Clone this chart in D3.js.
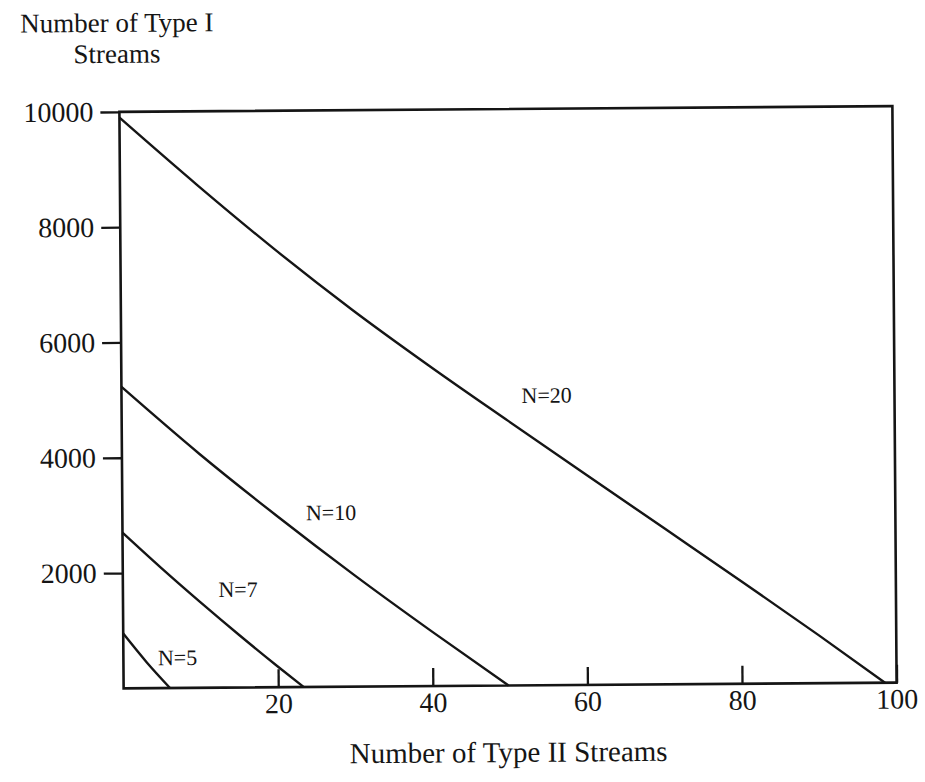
<!DOCTYPE html>
<html>
<head>
<meta charset="utf-8">
<script src="https://cdn.jsdelivr.net/npm/d3@7/dist/d3.min.js"></script>
<style>
  html, body { margin: 0; padding: 0; background: #fff; }
  svg { display: block; }
  text { font-family: "Liberation Serif", "Times New Roman", serif; fill: #151515; }
</style>
</head>
<body>
<svg id="chart" width="925" height="782"></svg>
<script>
// Capacity curves: number of Type I streams vs. number of Type II streams, per N
const xTicks = [20, 40, 60, 80, 100];
const yTicks = [2000, 4000, 6000, 8000, 10000];

const n20x = [0, 10, 20, 30, 40, 50, 60, 70, 80, 90, 98.5];
const n20y = [9900, 8720, 7590, 6530, 5540, 4590, 3650, 2715, 1780, 830, 0];

const n10x = [0, 10, 20, 30, 40, 49.8];
const n10y = [5230, 4060, 2970, 1930, 940, 0];

const n7x = [0, 5, 10, 15, 20, 23.3];
const n7y = [2700, 2080, 1485, 910, 355, 0];

const n5x = [0, 3, 6];
const n5y = [950, 450, 0];

const curveNames = ["N=20", "N=10", "N=7", "N=5"];
// label anchors in data units (text centre / baseline)
const labelX = [55, 27, 14.9, 7.0];
const labelY = [4900, 2893, 1570, 397];

const series = [
  { name: curveNames[0], xs: n20x, ys: n20y },
  { name: curveNames[1], xs: n10x, ys: n10y },
  { name: curveNames[2], xs: n7x, ys: n7y },
  { name: curveNames[3], xs: n5x, ys: n5y }
];

const ink = "#151515";
const plotLeft = 121.5, plotRight = 894.5, plotTop = 109, plotBottom = 685.5;

const svg = d3.select("#chart");
const root = svg.append("g").attr("transform", "rotate(-0.42, 508, 397)");

const x = d3.scaleLinear().domain([0, 100]).range([plotLeft, plotRight]);
const y = d3.scaleLinear().domain([0, 10000]).range([plotBottom, plotTop]);

// y axis: outward ticks on the left
const yAxis = root.append("g")
  .attr("transform", `translate(${plotLeft},0)`)
  .call(d3.axisLeft(y).tickValues(yTicks).tickSize(19).tickPadding(7).tickFormat(d3.format("d")));
yAxis.select(".domain").remove();
yAxis.selectAll(".tick line").attr("stroke", ink).attr("stroke-width", 2.3);
yAxis.selectAll(".tick text").attr("font-size", 28).attr("font-family", "Liberation Serif").attr("fill", ink);

// x axis: ticks pointing into the plot, labels below
const xAxis = root.append("g")
  .attr("transform", `translate(0,${plotBottom})`)
  .call(d3.axisBottom(x).tickValues(xTicks).tickSizeInner(-18).tickSizeOuter(0).tickPadding(6).tickFormat(d3.format("d")));
xAxis.select(".domain").remove();
xAxis.selectAll(".tick line").attr("stroke", ink).attr("stroke-width", 2.3);
xAxis.selectAll(".tick text").attr("font-size", 28).attr("font-family", "Liberation Serif").attr("fill", ink);

// plot frame
root.append("rect")
  .attr("x", plotLeft).attr("y", plotTop)
  .attr("width", plotRight - plotLeft).attr("height", plotBottom - plotTop)
  .attr("fill", "none").attr("stroke", ink).attr("stroke-width", 2.6);

// curves
const line = d3.line()
  .x(d => x(d[0]))
  .y(d => y(d[1]))
  .curve(d3.curveMonotoneX);

root.selectAll("path.curve")
  .data(series)
  .enter().append("path")
  .attr("class", "curve")
  .attr("d", s => line(s.xs.map((v, i) => [v, s.ys[i]])))
  .attr("fill", "none")
  .attr("stroke", ink)
  .attr("stroke-width", 2.4);

// curve labels
root.selectAll("text.clabel")
  .data(curveNames)
  .enter().append("text")
  .attr("class", "clabel")
  .attr("x", (d, i) => x(labelX[i]))
  .attr("y", (d, i) => y(labelY[i]))
  .attr("text-anchor", "middle")
  .attr("font-size", 22)
  .text(d => d);

// y axis title (two lines, top-left)
root.append("text")
  .attr("x", 119.5).attr("y", 29)
  .attr("text-anchor", "middle")
  .attr("font-size", 27)
  .text("Number of Type I");
root.append("text")
  .attr("x", 119.5).attr("y", 60)
  .attr("text-anchor", "middle")
  .attr("font-size", 27)
  .text("Streams");

// x axis title
root.append("text")
  .attr("x", 506).attr("y", 762)
  .attr("text-anchor", "middle")
  .attr("font-size", 29)
  .text("Number of Type II Streams");
</script>
</body>
</html>
